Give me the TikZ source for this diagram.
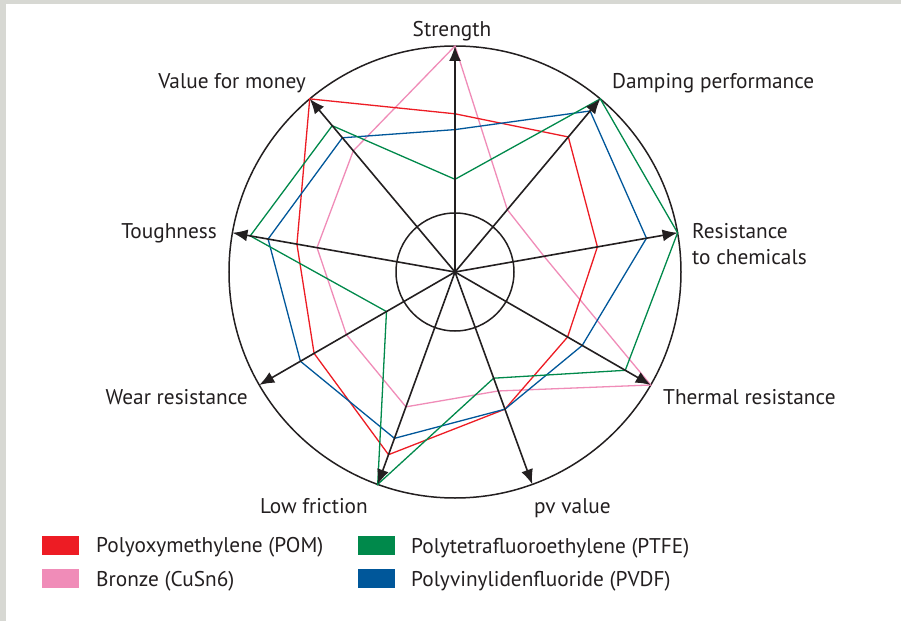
\documentclass[tikz,border=0pt]{standalone}
\usepackage{fontspec}
\setmainfont{PT Sans}
\usetikzlibrary{arrows.meta}
\definecolor{ink}{HTML}{231F20}
\definecolor{pomred}{HTML}{ED1C24}
\definecolor{bronzepink}{HTML}{F08CB8}
\definecolor{ptfegreen}{HTML}{00894B}
\definecolor{pvdfblue}{HTML}{00579A}
\definecolor{framegray}{HTML}{D7D8D3}
\tikzset{
  axisarrow/.style={draw=ink, line width=1.6pt, -{Latex[length=15pt,width=12pt]}},
  ring/.style={draw=ink, line width=1.5pt},
  series/.style={line width=1.3pt, line join=miter},
  lab/.style={text=ink, inner sep=0pt, font=\fontsize{21.3}{26}\selectfont},
  legtext/.style={text=ink, inner sep=0pt, anchor=base west, font=\fontsize{21.3}{26}\selectfont},
  legbox/.style={inner sep=0pt, minimum width=37pt, minimum height=19pt, anchor=north west}
}
\begin{document}
\begin{tikzpicture}[x=1pt,y=1pt]
\useasboundingbox (-455,272) rectangle (446,-349);
\fill[white] (-455,272) rectangle (446,-349);
\fill[framegray] (-455,272) rectangle (446,268);
\fill[framegray] (-455,272) rectangle (-449,-349);

\coordinate (O) at (0,0);
\node[ring, circle, minimum size=452pt, inner sep=0pt] (outer) at (O) {};
\node[ring, circle, minimum size=118pt, inner sep=0pt] (inner) at (O) {};

% data series
\draw[series, bronzepink] (90:226) -- (50:81.4) -- (10:90.4) -- (-30:226) -- (-70:126.6) -- (-110:143.5) -- (-150:125.4) -- (170:140.1) -- (130:158.2) -- cycle;
\draw[series, pomred] (90:158.2) -- (50:176.3) -- (10:144.6) -- (-30:130) -- (-70:146) -- (-110:194.4) -- (-150:162.7) -- (170:160.5) -- (130:226) -- cycle;
\draw[series, pvdfblue] (90:142.4) -- (50:210.2) -- (10:194.4) -- (-30:146.9) -- (-70:146) -- (-110:177) -- (-150:178.5) -- (170:189.8) -- (130:175.2) -- cycle;
\draw[series, ptfegreen] (90:92.7) -- (50:226) -- (10:226) -- (-30:196.6) -- (-70:113) -- (-110:226) -- (-150:79.1) -- (170:207.9) -- (130:191) -- cycle;

% axes
\foreach \n/\a in {str/90, dmp/50, chm/10, thr/-30, pv/-70, lf/-110, wr/-150, tgh/170, val/130}{
  \coordinate (\n) at (\a:226);
  \draw[axisarrow] (O) -- (\n);
}

% labels
\node[lab, anchor=base] (lstr) at (-3,235) {Strength};
\node[lab, anchor=base east] (lval) at (-149,183) {Value for money};
\node[lab, anchor=base west] (ldmp) at (157,183) {Damping performance};
\node[lab, anchor=base east] (ltgh) at (-238,34) {Toughness};
\node[lab, anchor=base west, align=left] (lchm) at (237,8) {Resistance\\to chemicals};
\node[lab, anchor=base east] (lwr) at (-207,-132) {Wear resistance};
\node[lab, anchor=base west] (lthr) at (208,-132) {Thermal resistance};
\node[lab, anchor=base east] (llf) at (-87,-241) {Low friction};
\node[lab, anchor=base west] (lpv) at (79,-241) {pv value};

% legend
\node[legbox, fill=pomred] (kpom) at (-413,-264) {};
\node[legbox, fill=bronzepink] (kbr) at (-413,-297) {};
\node[legbox, fill=ptfegreen] (kptfe) at (-97,-264) {};
\node[legbox, fill=pvdfblue] (kpvdf) at (-97,-297) {};
\node[legtext] (tpom) at (-359,-280) {Polyoxymethylene (POM)};
\node[legtext] (tbr) at (-359,-314) {Bronze (CuSn6)};
\node[legtext] (tptfe) at (-44,-281) {Polytetrafluoroethylene (PTFE)};
\node[legtext] (tpvdf) at (-44,-314) {Polyvinylidenfluoride (PVDF)};
\end{tikzpicture}
\end{document}
